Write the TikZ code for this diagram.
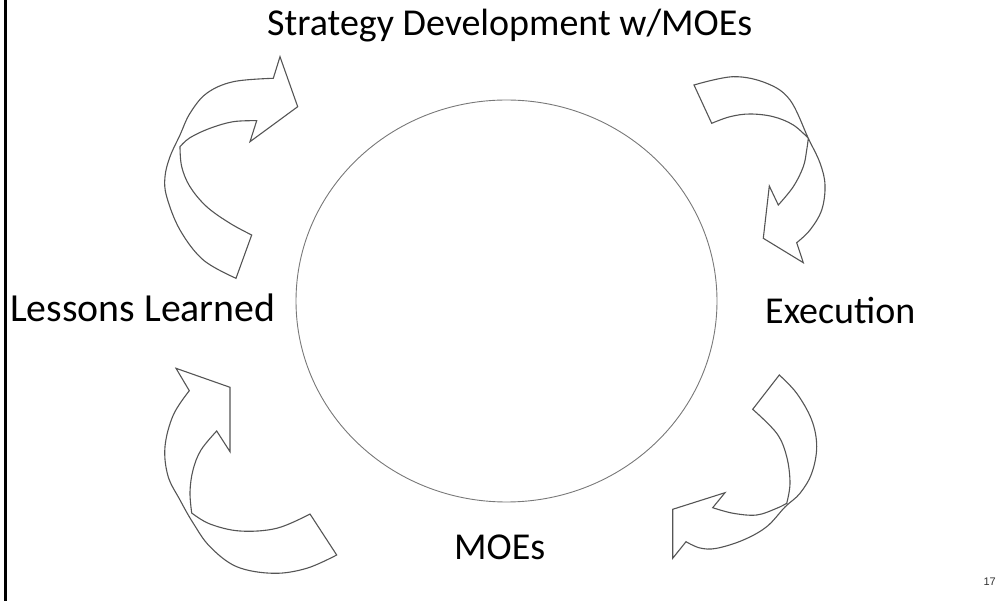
\documentclass[tikz,border=0pt]{standalone}
\usepackage{fontspec}
\usetikzlibrary{shapes.geometric}
\setmainfont{Carlito}
\newfontfamily\pagenumfont{Liberation Sans}
\definecolor{arrowgray}{RGB}{85,85,85}
\definecolor{circgray}{RGB}{120,120,120}
\begin{document}
\begin{tikzpicture}[x=1pt,y=-1pt,
  blockarrow/.style={draw=arrowgray, line width=1.1pt, line join=miter},
  label/.style={font=\fontsize{38}{40}\selectfont, text=black, inner sep=0pt, anchor=base west},
  sm/.style={smooth, tension=0.6}]
\useasboundingbox (0,0) rectangle (1005,601);
% left border
\draw[line width=2.5pt, black] (5.3,0) -- (5.3,601);
% central circle
\node[draw=circgray, line width=0.9pt, ellipse, minimum width=421pt, minimum height=402pt, inner sep=0pt] (core) at (506.5,301) {};
% labels
\node[label] (strat) at (267,36) {Strategy Development w/MOEs};
\node[label, font=\fontsize{39.8}{42}\selectfont] (lessons) at (10,322) {Lessons Learned};
\node[label] (exec) at (765,324) {Execution};
\node[label] (moes) at (454,560) {MOEs};
\node[font=\pagenumfont\fontsize{11}{12}\selectfont, text={rgb,255:red,50;green,50;blue,50}, inner sep=0pt, anchor=base east] (pnum) at (996,586) {17};
% top-left arrow
\draw[blockarrow] (251.7,235) -- (236,278.3)
  -- plot[sm] coordinates {(236,278.3) (203.3,260) (180,230) (166.7,196.7) (165,176.7) (170,156.7) (180,135) (190,113.3) (206.7,93.3) (233.3,81.7) (273.3,78.3)}
  -- (280,56.7) -- (297.7,106.7) -- (250,141.7) -- (256.7,120.7)
  -- plot[sm] coordinates {(256.7,120.7) (233.3,121.7) (210,128.3) (190,137.7) (180,146.7)}
  -- plot[sm] coordinates {(180,146.7) (181.7,166.7) (190,186.7) (206.7,206.7) (230,223.3) (251.7,235)}
  -- cycle;
% top-right arrow
\draw[blockarrow] (711.7,123.3) -- (694,85)
  -- plot[sm] coordinates {(694,85) (733.3,76.7) (766.7,83.3) (790,100) (808.3,138.3) (820,163) (825,185) (821.7,210) (810,230) (796.7,242.7)}
  -- (803.3,262.7) -- (763.3,238.3) -- (769.3,186) -- (778.3,205)
  -- plot[sm] coordinates {(778.3,205) (793.3,186.7) (803.3,166.7) (806.7,150) (808.3,138.3)}
  -- plot[sm] coordinates {(808.3,138.3) (793.3,125) (773.3,116.7) (750,114) (730,116.7) (711.7,123.3)}
  -- cycle;
% bottom-left arrow
\draw[blockarrow] (310,514) -- (336.7,555)
  -- plot[sm] coordinates {(336.7,555) (306.7,568.3) (273.3,573.3) (236.7,566.7) (210,546.7) (193.3,523.3) (180,500) (168,476) (165,446.7) (173.3,415) (189.3,390.7)}
  -- (176,368.3) -- (230,387.3) -- (230,451.7) -- (216.7,431)
  -- plot[sm] coordinates {(216.7,431) (201,450) (193,470) (190,492) (191.7,513)}
  -- plot[sm] coordinates {(191.7,513) (210,524) (240,531) (276.7,528.3) (310,514)}
  -- cycle;
% bottom-right arrow
\draw[blockarrow] (752.7,409.3) -- (779.3,375)
  -- plot[sm] coordinates {(779.3,375) (796.7,393.3) (811.7,420) (816.7,446.7) (811.7,473.3) (800,493.3) (785,507) (766.7,526.7) (743.3,540) (716.7,548.3) (700,548) (686,541.7)}
  -- (672.7,558.3) -- (672.7,509.3) -- (725,492.7) -- (712.7,507.7)
  -- plot[sm] coordinates {(712.7,507.7) (733.3,513.3) (756.7,515) (776.7,508.3) (786.7,503.3)}
  -- plot[sm] coordinates {(786.7,503.3) (790,483.3) (786.7,456.7) (776.7,433.3) (752.7,409.3)}
  -- cycle;
\end{tikzpicture}
\end{document}
